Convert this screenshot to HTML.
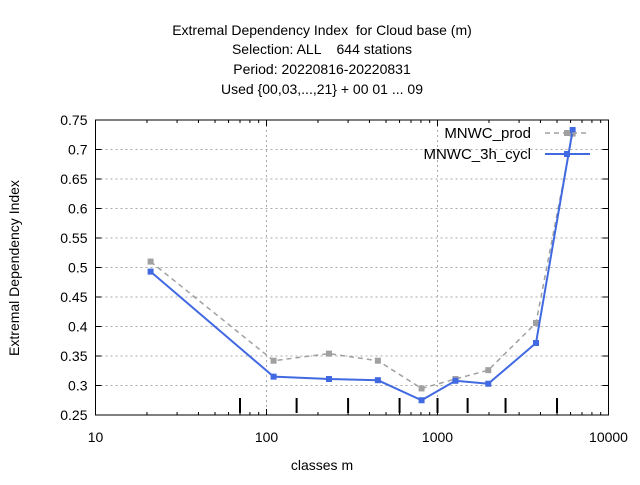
<!DOCTYPE html>
<html><head><meta charset="utf-8"><style>
body{margin:0;background:#fff}
svg text{font-family:"Liberation Sans",sans-serif;font-size:14px;fill:#000;white-space:pre}
</style></head><body>
<svg id="c" width="640" height="480" viewBox="0 0 640 480">
<g text-anchor="middle">
<text x="322" y="35">Extremal Dependency Index  for Cloud base (m)</text>
<text x="322" y="54">Selection: ALL    644 stations</text>
<text x="322" y="74">Period: 20220816-20220831</text>
<text x="322" y="94">Used {00,03,...,21} + 00 01 ... 09</text>
</g>
<g id="grid"></g>
<g id="axes"></g>
<g id="series"></g>
<text x="322" y="470" text-anchor="middle">classes m</text>
<text transform="translate(19,268) rotate(-90)" text-anchor="middle">Extremal Dependency Index</text>
<g>
<text x="531" y="138" text-anchor="end" style="font-size:15px">MNWC_prod</text>
<line x1="545" y1="133" x2="590" y2="133" stroke="#a0a0a0" stroke-width="1.5" stroke-dasharray="5,4"/>
<rect x="564" y="130" width="6" height="6" fill="#a0a0a0"/>
<text x="531" y="159" text-anchor="end" style="font-size:15px">MNWC_3h_cycl</text>
<line x1="545" y1="154" x2="590" y2="154" stroke="#4169e1" stroke-width="2"/>
<rect x="564" y="151" width="6" height="6" fill="#4169e1"/>
</g>
</svg>
<script>
const xTicks=[10,100,1000,10000];
const yTicks=[0.25,0.3,0.35,0.4,0.45,0.5,0.55,0.6,0.65,0.7,0.75];
const classBounds=[70,150,300,600,1000,1500,2500,5000];
const xVals=[21,110,232,448,807,1273,1981,3767,6170];
const prodVals=[0.51,0.342,0.354,0.342,0.295,0.311,0.326,0.406,0.727];
const cyclVals=[0.493,0.315,0.311,0.309,0.275,0.308,0.303,0.372,0.733];
const L=95.5,R=608.5,T=120,B=415;
const X=v=>L+(Math.log10(v)-1)/3*(R-L);
const Y=v=>B-(v-0.25)/0.5*(B-T);
const NS='http://www.w3.org/2000/svg';
function mk(t,a,p){const e=document.createElementNS(NS,t);for(const k in a)e.setAttribute(k,a[k]);p.appendChild(e);return e;}
const g=document.getElementById('grid'),ax=document.getElementById('axes'),s=document.getElementById('series');
yTicks.forEach(v=>{
 if(v>0.25&&v<0.75){const l=mk('line',{x1:L,x2:R,y1:Y(v),y2:Y(v),stroke:'#aaa','stroke-dasharray':'2,3'},g);
 }
 mk('line',{x1:L,x2:L+6,y1:Y(v),y2:Y(v),stroke:'#000'},ax);
 mk('line',{x1:R,x2:R-6,y1:Y(v),y2:Y(v),stroke:'#000'},ax);
 const t=mk('text',{x:L-8,y:Y(v)+5,'text-anchor':'end'},ax);t.textContent=String(v);
 
});
xTicks.forEach(v=>{
 if(v>10&&v<10000){const l=mk('line',{x1:X(v),x2:X(v),y1:T,y2:B,stroke:'#aaa','stroke-dasharray':'2,3'},g);
 }
 mk('line',{x1:X(v),x2:X(v),y1:B,y2:B-6,stroke:'#000'},ax);
 mk('line',{x1:X(v),x2:X(v),y1:T,y2:T+6,stroke:'#000'},ax);
 const t=mk('text',{x:X(v),y:B+27,'text-anchor':'middle'},ax);t.textContent=String(v);
 
 if(v<10000)for(let m=2;m<10;m++){const xv=X(v*m);
  mk('line',{x1:xv,x2:xv,y1:B,y2:B-3,stroke:'#000'},ax);mk('line',{x1:xv,x2:xv,y1:T,y2:T+3,stroke:'#000'},ax);}
});
mk('rect',{x:L,y:T,width:R-L,height:B-T,fill:'none',stroke:'#000'},ax);
classBounds.forEach(v=>{const l=mk('line',{x1:X(v),x2:X(v),y1:B-2,y2:B-17,stroke:'#000','stroke-width':2},ax);
 });
function series(vals,col,w,dash,name){
 const p=mk('polyline',{points:xVals.map((x,i)=>X(x)+','+Y(vals[i])).join(' '),fill:'none',stroke:col,'stroke-width':w},s);
 if(dash)p.setAttribute('stroke-dasharray',dash);
 
 xVals.forEach((x,i)=>{const r=mk('rect',{x:X(x)-3,y:Y(vals[i])-3,width:6,height:6,fill:col},s);
  });
}
series(prodVals,'#a0a0a0',1.5,'5,4','mnwc-prod');
series(cyclVals,'#4169e1',2,null,'mnwc-3h-cycl');
</script>
</body></html>
